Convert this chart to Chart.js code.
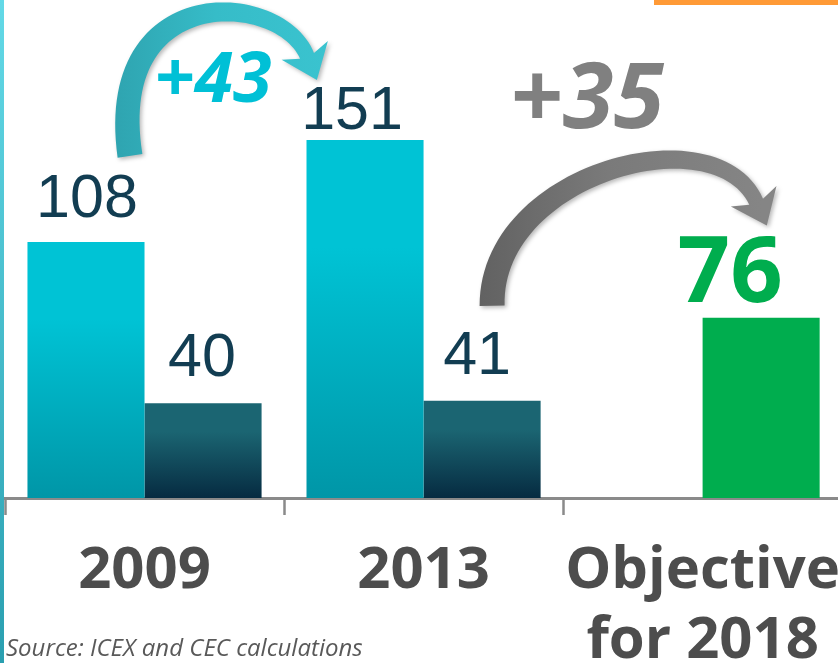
<!DOCTYPE html>
<html>
<head>
<meta charset="utf-8">
<script src="https://cdn.jsdelivr.net/npm/chart.js@4.4.1/dist/chart.umd.min.js"></script>
<style>
  html, body { margin: 0; padding: 0; background: #fff; overflow: hidden; }
  #wrap { width: 862px; height: 663px; }
</style>
</head>
<body>
<div id="wrap"><canvas id="growth-chart" width="862" height="663"></canvas></div>
<script>
const categories = [['2009'], ['2013'], ['Objective', 'for 2018']];
const firstSeries = [108, 151, null];
const secondSeries = [40, 41, 76];
const changeLabels = ['+43', '+35'];
const sourceNote = 'Source: ICEX and CEC calculations';

const NAVY = '#123d52';
const GREEN = '#00ad4e';

// per-bar gradient, bar top to baseline
const barGradient = (context, top, bottom) => {
  const chart = context.chart;
  const yScale = chart.scales.y;
  const value = context.raw;
  if (!chart.chartArea || !yScale || value == null) return top;
  const y0 = yScale.getPixelForValue(value);
  const y1 = yScale.getPixelForValue(0);
  const g = chart.ctx.createLinearGradient(0, y0, 0, y1);
  g.addColorStop(0, top);
  g.addColorStop(0.3, top);
  g.addColorStop(1, bottom);
  return g;
};

// label nudges (px) so numbers sit like the original slide
const labelNudge = [
  [{ dx: 1, gap: 25 }, { dx: -13, gap: 11 }, null],
  [{ dx: -1, gap: 27 }, { dx: -5, gap: 27 }, { dx: -31, gap: 16 }],
];

const valueLabels = {
  id: 'valueLabels',
  afterDatasetsDraw(chart) {
    const ctx = chart.ctx;
    ctx.save();
    ctx.textAlign = 'center';
    ctx.textBaseline = 'alphabetic';
    chart.data.datasets.forEach((ds, di) => {
      chart.getDatasetMeta(di).data.forEach((bar, i) => {
        const v = ds.data[i];
        if (v == null) return;
        const n = labelNudge[di][i] || { dx: 0, gap: 20 };
        const isGoal = di === 1 && i === 2;
        ctx.fillStyle = isGoal ? GREEN : NAVY;
        ctx.font = isGoal ? 'bold 92px "Open Sans"' : '61px "Liberation Sans"';
        ctx.fillText(String(v), bar.x + n.dx, bar.y - n.gap);
      });
    });
    ctx.restore();
  },
};

// curved ribbon arrow along a cubic bezier
function drawArrow(ctx, p0, p1, p2, p3, w0, w1, headW, headL, fill) {
  const pts = [];
  const steps = 60;
  for (let s = 0; s <= steps; s++) {
    const t = s / steps, u = 1 - t;
    const x = u*u*u*p0[0] + 3*u*u*t*p1[0] + 3*u*t*t*p2[0] + t*t*t*p3[0];
    const y = u*u*u*p0[1] + 3*u*u*t*p1[1] + 3*u*t*t*p2[1] + t*t*t*p3[1];
    const dx = 3*u*u*(p1[0]-p0[0]) + 6*u*t*(p2[0]-p1[0]) + 3*t*t*(p3[0]-p2[0]);
    const dy = 3*u*u*(p1[1]-p0[1]) + 6*u*t*(p2[1]-p1[1]) + 3*t*t*(p3[1]-p2[1]);
    const len = Math.hypot(dx, dy) || 1;
    pts.push({ x, y, nx: -dy / len, ny: dx / len, tx: dx / len, ty: dy / len, w: w0 + (w1 - w0) * t });
  }
  ctx.beginPath();
  pts.forEach((p, i) => {
    const x = p.x + p.nx * p.w / 2, y = p.y + p.ny * p.w / 2;
    i ? ctx.lineTo(x, y) : ctx.moveTo(x, y);
  });
  const e = pts[pts.length - 1];
  // head
  ctx.lineTo(e.x + e.nx * headW / 2 - e.tx * 6, e.y + e.ny * headW / 2 - e.ty * 6);
  ctx.lineTo(e.x + e.tx * headL, e.y + e.ty * headL);
  ctx.lineTo(e.x - e.nx * headW / 2 - e.tx * 6, e.y - e.ny * headW / 2 - e.ty * 6);
  for (let i = pts.length - 1; i >= 0; i--) {
    const p = pts[i];
    ctx.lineTo(p.x - p.nx * p.w / 2, p.y - p.ny * p.w / 2);
  }
  ctx.closePath();
  ctx.fillStyle = fill;
  ctx.fill();
}

const decorations = {
  id: 'decorations',
  beforeDraw(chart) {
    const { ctx, height } = chart;
    ctx.save();
    ctx.fillStyle = '#fff';
    ctx.fillRect(0, 0, chart.width, height);
    const side = ctx.createLinearGradient(0, 0, 0, height);
    side.addColorStop(0, '#63d9e7');
    side.addColorStop(1, '#2a9fb0');
    ctx.fillStyle = side;
    ctx.fillRect(0, 0, 4, height);
    ctx.fillStyle = '#ff9a36';
    ctx.fillRect(654, 0, 184, 5);
    ctx.restore();
  },
  afterDraw(chart) {
    const ctx = chart.ctx;
    const a = chart.getDatasetMeta(0).data;
    const b = chart.getDatasetMeta(1).data;
    const b108 = a[0], b151 = a[1], b41 = b[1], b76 = b[2];
    ctx.save();
    ctx.shadowColor = 'rgba(0,0,0,0.28)';
    ctx.shadowBlur = 4;
    ctx.shadowOffsetX = 2;
    ctx.shadowOffsetY = 2;

    const cy = ctx.createLinearGradient(b108.x + 20, 0, b151.x - 40, 0);
    cy.addColorStop(0, '#2ea2ae');
    cy.addColorStop(0.5, '#36bcc8');
    cy.addColorStop(1, '#3ac3cf');
    drawArrow(ctx,
      [b108.x + 44, b108.y - 86], [b108.x + 18, b108.y - 262],
      [b151.x - 85, b151.y - 150], [b151.x - 58, b151.y - 84],
      25, 15, 50, 26, cy);

    const gr = ctx.createLinearGradient(b41.x, 0, b76.x, 0);
    gr.addColorStop(0, '#626262');
    gr.addColorStop(0.45, '#7a7a7a');
    gr.addColorStop(1, '#858585');
    drawArrow(ctx,
      [b41.x + 10, b41.y - 95], [b41.x + 8, b41.y - 228],
      [b76.x - 45, b76.y - 205], [b76.x - 5, b76.y - 116],
      25, 15, 50, 26, gr);
    ctx.restore();

    ctx.save();
    ctx.textAlign = 'center';
    ctx.textBaseline = 'alphabetic';
    ctx.font = 'italic bold 70px "Open Sans"';
    ctx.fillStyle = '#00c0d6';
    ctx.fillText(changeLabels[0], b108.x + 127, b108.y - 140);
    ctx.font = 'italic bold 92px "Open Sans"';
    ctx.fillStyle = '#808080';
    ctx.fillText(changeLabels[1], b41.x + 105, b41.y - 273);

    ctx.textAlign = 'left';
    ctx.font = 'italic 24px "Open Sans"';
    ctx.fillStyle = '#595959';
    ctx.fillText(sourceNote, 6, 656);
    ctx.restore();
  },
};

new Chart(document.getElementById('growth-chart'), {
  type: 'bar',
  data: {
    labels: categories,
    datasets: [
      {
        label: 'first',
        data: firstSeries,
        backgroundColor: (c) => barGradient(c, '#00c3d5', '#0096a7'),
        barPercentage: 1,
        categoryPercentage: 0.839,
      },
      {
        label: 'second',
        data: secondSeries,
        backgroundColor: (c) =>
          c.dataIndex === 2 ? GREEN : barGradient(c, '#1b6572', '#062b41'),
        barPercentage: 1,
        categoryPercentage: 0.839,
      },
    ],
  },
  plugins: [decorations, valueLabels],
  options: {
    responsive: false,
    animation: false,
    events: [],
    layout: { padding: { left: 5, right: 0, top: 0, bottom: 0 } },
    scales: {
      x: {
        afterFit: (scale) => { scale.height = 165; },
        border: { display: true, color: '#8a8a8a', width: 3 },
        grid: {
          drawOnChartArea: false,
          drawTicks: true,
          tickLength: 17,
          tickWidth: 2.5,
          color: '#8a8a8a',
          offset: true,
        },
        ticks: {
          color: '#4d4d4d',
          font: { family: 'Open Sans', weight: 'bold', size: 58, lineHeight: 1.2 },
          padding: 22,
          maxRotation: 0,
          autoSkip: false,
        },
      },
      y: {
        display: false,
        min: 0,
        max: 210,
      },
    },
    plugins: {
      legend: { display: false },
      tooltip: { enabled: false },
    },
  },
});
</script>
</body>
</html>
